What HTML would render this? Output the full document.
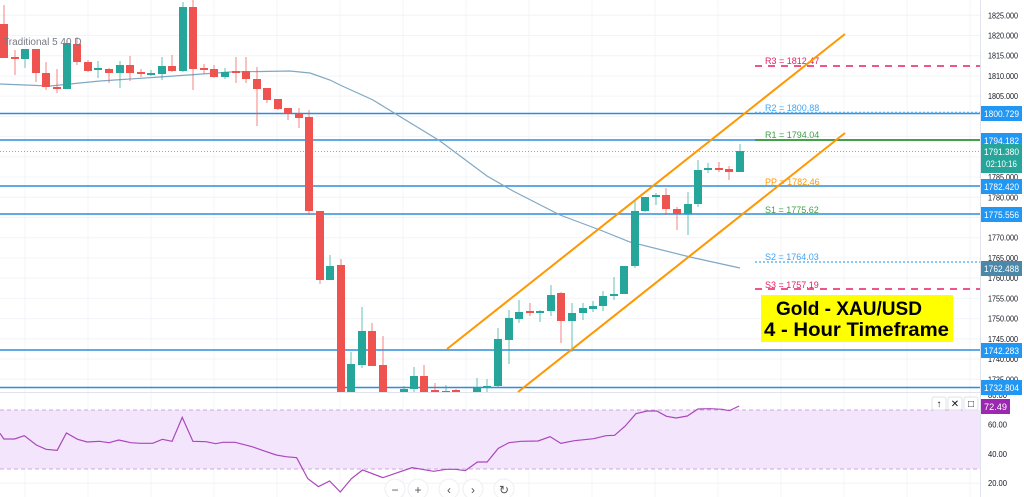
<!DOCTYPE html>
<html><head><meta charset="utf-8"><style>
html,body{margin:0;padding:0;background:#fff;}
body{width:1024px;height:497px;overflow:hidden;position:relative;font-family:"Liberation Sans",sans-serif;}
svg{position:absolute;left:0;top:0;}
</style></head><body>
<svg id="s" width="1024" height="497" xmlns="http://www.w3.org/2000/svg" font-family="Liberation Sans, sans-serif">
<g id="grid" stroke="#f2f4f8" stroke-width="1"></g>
<rect x="0" y="410" width="981" height="59" fill="#f3e5fc"/>
<line x1="0" y1="410" x2="981" y2="410" stroke="#c9a9d8" stroke-dasharray="4,3"/>
<line x1="0" y1="469" x2="981" y2="469" stroke="#c9a9d8" stroke-dasharray="4,3"/>
<g stroke="#2f8ddd" stroke-width="1.5">
<line x1="0" y1="113.5" x2="981" y2="113.5"/>
<line x1="0" y1="140" x2="981" y2="140"/>
<line x1="0" y1="186" x2="981" y2="186"/>
<line x1="0" y1="214" x2="981" y2="214"/>
<line x1="0" y1="350" x2="981" y2="350"/>
<line x1="0" y1="387.5" x2="981" y2="387.5"/>
</g>
<line x1="0" y1="151.5" x2="981" y2="151.5" stroke="#26a69a" stroke-dasharray="1,2" opacity="0.7"/>
<line x1="755" y1="66" x2="981" y2="66" stroke="#e91e63" stroke-width="1.5" stroke-dasharray="7,6"/>
<line x1="755" y1="112.5" x2="981" y2="112.5" stroke="#64b5f6" stroke-width="1.5" stroke-dasharray="2,2"/>
<line x1="755" y1="140" x2="981" y2="140" stroke="#43a047" stroke-width="2"/>
<line x1="755" y1="262" x2="981" y2="262" stroke="#64b5f6" stroke-width="1.5" stroke-dasharray="2,2"/>
<line x1="755" y1="289" x2="981" y2="289" stroke="#e91e63" stroke-width="1.5" stroke-dasharray="7,6"/>
<g font-size="9">
<text x="765" y="64" fill="#e91e63">R3 = 1812.47</text>
<text x="765" y="111" fill="#42a5f5">R2 = 1800.88</text>
<text x="765" y="138" fill="#43a047">R1 = 1794.04</text>
<text x="765" y="185" fill="#ff9800">PP = 1782.46</text>
<text x="765" y="213" fill="#43a047">S1 = 1775.62</text>
<text x="765" y="260" fill="#42a5f5">S2 = 1764.03</text>
<text x="765" y="288" fill="#e91e63">S3 = 1757.19</text>
</g>
<polyline fill="none" stroke="#7fa8c4" stroke-width="1.2" points="0,84 50,86 100,81 160,77 230,72 290,71 310,73 330,80 340,85 373,100 440,141 487,176 513,191 560,215 600,230 630,242 690,257 740,268"/>
<g id="candles"></g>
<rect x="0" y="392" width="981" height="1" fill="#e0e3eb"/>
<line x1="447" y1="349" x2="845" y2="34" stroke="#ff9800" stroke-width="2"/>
<line x1="518" y1="392" x2="845" y2="133" stroke="#ff9800" stroke-width="2"/>
<text x="3" y="45" font-size="10" fill="#787b86">Traditional 5 40 D</text>
<g transform="translate(0,390) scale(0.4847,0.3333)">
<polyline fill="none" stroke="#ab47bc" stroke-width="1.2" vector-effect="non-scaling-stroke" points="0,130 8,147 30,147 50,137 75,165 95,178 118,181 137,129 160,148 180,156 205,154 225,158 245,150 270,158 290,160 315,160 335,148 355,154 376,82 398,154 425,155 445,161 460,157 485,157 520,170 545,183 570,195 590,200 612,203 635,266 657,290 680,273 702,306 725,266 748,240 790,263 850,233 895,244 920,238 940,238 960,242 985,216 1005,216 1028,175 1050,158 1075,154 1110,153 1135,140 1157,160 1185,152 1225,146 1250,137 1268,136 1290,108 1312,71 1335,63 1355,63 1375,79 1395,84 1418,78 1440,57 1465,56 1490,58 1505,62 1525,48"/>
</g>
<rect x="981" y="0" width="43" height="497" fill="#fff"/>
<line x1="980.5" y1="0" x2="980.5" y2="497" stroke="#e0e3eb"/>
<g id="ticks" font-size="8.5" fill="#131722"></g>
<g font-size="9" fill="#fff">
<rect x="981" y="106" width="41" height="15" fill="#2196f3"/><text x="984" y="117" textLength="35" lengthAdjust="spacingAndGlyphs">1800.729</text>
<rect x="981" y="133" width="41" height="15" fill="#2196f3"/><text x="984" y="144" textLength="35" lengthAdjust="spacingAndGlyphs">1794.182</text>
<rect x="981" y="144" width="41" height="29" fill="#26a69a"/><text x="984" y="155" textLength="35" lengthAdjust="spacingAndGlyphs">1791.380</text><text x="986" y="167" textLength="31" lengthAdjust="spacingAndGlyphs">02:10:16</text>
<rect x="981" y="179" width="41" height="15" fill="#2196f3"/><text x="984" y="190" textLength="35" lengthAdjust="spacingAndGlyphs">1782.420</text>
<rect x="981" y="207" width="41" height="15" fill="#2196f3"/><text x="984" y="218" textLength="35" lengthAdjust="spacingAndGlyphs">1775.556</text>
<rect x="981" y="261" width="41" height="15" fill="#4a87a8"/><text x="984" y="272" textLength="35" lengthAdjust="spacingAndGlyphs">1762.488</text>
<rect x="981" y="343" width="41" height="15" fill="#2196f3"/><text x="984" y="354" textLength="35" lengthAdjust="spacingAndGlyphs">1742.283</text>
<rect x="981" y="380" width="41" height="15" fill="#2196f3"/><text x="984" y="391" textLength="35" lengthAdjust="spacingAndGlyphs">1732.804</text>
<rect x="981" y="399" width="29" height="15" fill="#9c27b0"/><text x="984" y="410" textLength="23" lengthAdjust="spacingAndGlyphs">72.49</text>
</g>
<rect x="761" y="295" width="192" height="47" fill="#ffff00"/>
<text x="776" y="315" font-size="19" font-weight="bold" fill="#000" textLength="146" lengthAdjust="spacingAndGlyphs">Gold - XAU/USD</text>
<text x="764" y="336" font-size="19" font-weight="bold" fill="#000" textLength="185" lengthAdjust="spacingAndGlyphs">4 - Hour Timeframe</text>
<g fill="#fff" stroke="#e0e3eb">
<rect x="932" y="397" width="14" height="13" rx="2"/><rect x="948" y="397" width="14" height="13" rx="2"/><rect x="964" y="397" width="14" height="13" rx="2"/>
</g>
<g font-size="10" fill="#131722" text-anchor="middle">
<text x="939" y="407">↑</text><text x="955" y="407">✕</text><text x="971" y="407">□</text>
</g>
<g fill="#fff" stroke="#eceef2">
<circle cx="395" cy="489" r="10"/><circle cx="418" cy="489" r="10"/><circle cx="449" cy="489" r="10"/><circle cx="473" cy="489" r="10"/><circle cx="504" cy="489" r="10"/>
</g>
<g font-size="12" fill="#555" text-anchor="middle">
<text x="395" y="494">−</text><text x="418" y="494">+</text><text x="449" y="494">‹</text><text x="473" y="494">›</text><text x="504" y="494">↻</text>
</g>
</svg>
<script>
var NS="http://www.w3.org/2000/svg";
function el(p,t,a){var e=document.createElementNS(NS,t);for(var k in a)e.setAttribute(k,a[k]);p.appendChild(e);return e;}
var g=document.getElementById('grid');
for(var x=25;x<981;x+=63)el(g,'line',{x1:x,y1:0,x2:x,y2:497});
var tk=document.getElementById('ticks');
for(var p=1825;p>=1735;p-=5){var y=15.3+(1825-p)*4.044;el(g,'line',{x1:0,y1:y,x2:981,y2:y});var t=el(tk,'text',{x:988,y:y+3,textLength:30,lengthAdjust:'spacingAndGlyphs'});t.textContent=p+'.000';}
[80,60,40,20].forEach(function(v){var y=395+(80-v)*1.47;if(v!=80)el(g,'line',{x1:0,y1:y,x2:981,y2:y});var t=el(tk,'text',{x:988,y:y+3,textLength:19,lengthAdjust:'spacingAndGlyphs'});t.textContent=v+'.00';});
var C=[[4,'r',24,58,5,58],[15,'r',57,59,50,75],[25,'g',49,59,49,68],[36,'r',49,73,49,82],[46,'r',73,87,62,90],[57,'r',87,89,69,93],[67,'g',43,89,40,89],[77,'r',44,62,37,65],[88,'r',62,71,60,72],[98,'g',68,70,61,78],[109,'r',69,73,68,83],[120,'g',65,73,61,88],[130,'r',65,73,56,81],[141,'r',72,74,69,77],[151,'g',73,75,70,76],[162,'g',66,74,57,80],[172,'r',66,71,55,72],[183,'g',7,71,2,72],[193,'r',7,69,0,90],[204,'r',68,70,64,74],[214,'r',69,77,65,78],[225,'g',72,77,68,79],[236,'r',71,73,57,83],[246,'r',71,79,57,83],[257,'r',79,89,67,126],[267,'r',88,100,88,103],[278,'r',99,109,99,110],[288,'r',108,113,108,120],[299,'r',114,118,108,128],[309,'r',117,211,110,215],[320,'r',211,280,211,284],[330,'g',266,280,255,280],[341,'r',265,392,259,392],[351,'g',364,392,352,392],[362,'g',331,365,307,368],[372,'r',331,366,323,366],[383,'r',365,392,336,392],[404,'g',389,392,386,392],[414,'g',376,389,367,392],[424,'r',376,392,365,392],[435,'r',390,392,383,392],[446,'g',391,392,385,392],[456,'r',390,392,389,392],[477,'g',388,392,378,392],[487,'g',386,388,379,392],[498,'g',339,386,328,388],[509,'g',318,340,310,364],[519,'g',312,319,300,323],[530,'r',311,313,303,316],[540,'g',311,313,310,322],[551,'g',295,311,285,316],[561,'r',293,321,292,343],[572,'g',313,321,303,352],[583,'g',308,313,303,320],[593,'g',306,309,301,312],[603,'g',296,306,291,311],[614,'g',294,296,277,300],[624,'g',266,294,266,294],[635,'g',211,266,200,268],[645,'g',197,211,197,212],[656,'g',195,197,193,205],[666,'r',195,209,188,215],[677,'r',209,214,207,230],[688,'g',204,214,192,235],[698,'g',170,204,160,207],[708,'g',168,170,163,173],[719,'r',168,170,162,172],[729,'r',169,172,166,180],[740,'g',151,172,144,172]];
var cg=document.getElementById('candles');
C.forEach(function(c){var col=c[1]=='r'?'#ef5350':'#26a69a';
el(cg,'line',{x1:c[0],y1:c[4],x2:c[0],y2:Math.min(392,c[5]),stroke:col,'stroke-width':1,opacity:0.7});
el(cg,'rect',{x:c[0]-4,y:c[2],width:8,height:Math.max(1.5,Math.min(392,c[3])-c[2]),fill:col});});
</script>
</body></html>
